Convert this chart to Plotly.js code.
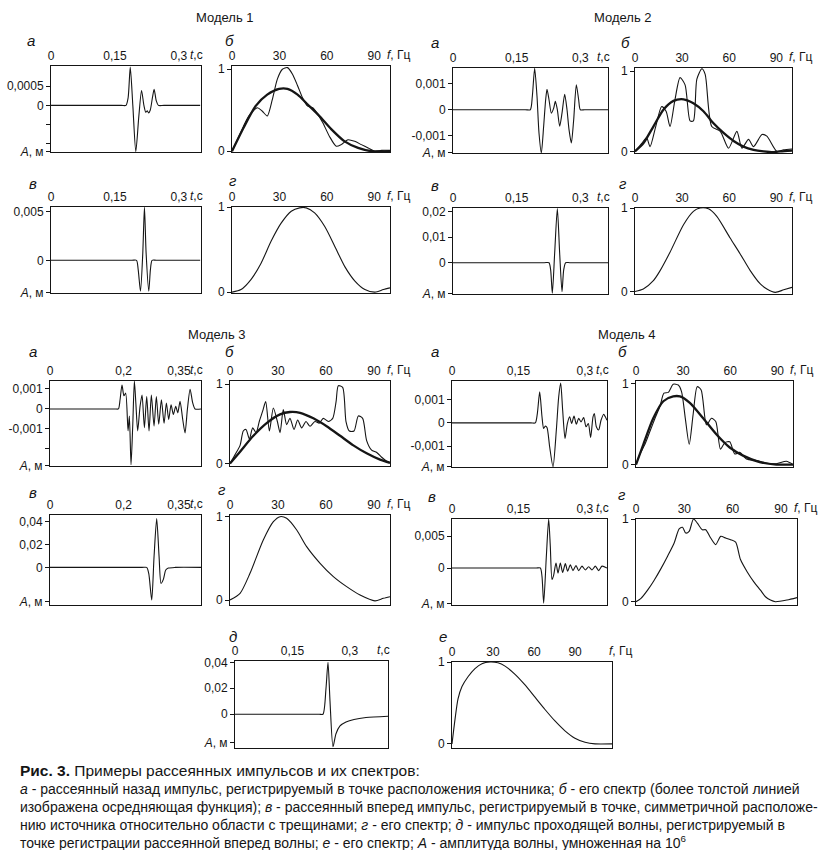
<!DOCTYPE html>
<html><head><meta charset="utf-8">
<script src="https://cdn.plot.ly/plotly-3.0.1.min.js"></script>
<style>body{margin:0;background:#fff}#c{width:820px;height:850px}</style>
</head><body><div id="c"></div>
<script>
// ---------- tick labels ----------
const T_TICKS_A = [0, 0.15, 0.3];  const T_LABELS_A = ['0', '0,15', '0,3'];
const T_TICKS_B = [0, 0.2, 0.35];  const T_LABELS_B = ['0', '0,2', '0,35'];
const F_TICKS = [0, 30, 60, 90];   const F_LABELS = ['0', '30', '60', '90'];
const S_TICKS = [0, 1];            const S_LABELS = ['0', '1'];
const AM = '<i>A</i>, м';

// ---------- Model 1 ----------
const M1A_T = [0, 0.165, 0.176, 0.181, 0.186, 0.192, 0.199, 0.206, 0.2125, 0.218, 0.2225, 0.226, 0.229, 0.233, 0.238, 0.242, 0.247, 0.252, 0.265, 0.35];
const M1A_A = [0, 0, 0, 0.0002, 0.001, 0.0, -0.00121, -0.0003, 0.00039, 0.0, -0.00018, -0.00014, -0.0002, -0.00012, 0.0002, 0.00042, 0.00012, 0, 0, 0];
const M1A_YT = [-0.00121, -0.001, -0.0005, 0, 0.0005]; const M1A_YL = [AM, '', '', '0', '0,0005'];
const M1B_F = [0, 5.3, 10.6, 16.0, 19.1, 22.3, 25.5, 28.7, 31.9, 35.1, 38.3, 41.5, 44.7, 47.9, 51.1, 54.3, 57.4, 61.7, 66.0, 69.1, 73.4, 77.7, 81.9, 86.2, 90.4, 94.7, 100];
const M1B_S = [0, 0.22, 0.43, 0.53, 0.49, 0.43, 0.63, 0.88, 1.0, 1.02, 0.94, 0.80, 0.65, 0.55, 0.53, 0.45, 0.35, 0.18, 0.06, 0.08, 0.14, 0.12, 0.08, 0.04, 0.0, 0.01, 0.01];
const M1B_FAVG = [0, 7.4, 14.9, 22.3, 29.8, 35.1, 41.5, 47.9, 55.3, 62.8, 71.3, 79.8, 88.3, 100];
const M1B_SAVG = [0, 0.29, 0.55, 0.69, 0.76, 0.76, 0.69, 0.57, 0.43, 0.27, 0.12, 0.04, 0.0, 0.0];
const M1C_T = [0, 0.19, 0.2007, 0.2046, 0.21, 0.2154, 0.2193, 0.2232, 0.2294, 0.2333, 0.2372, 0.247, 0.35];
const M1C_A = [0, 0, 0, -0.00095, -0.00316, 0.00075, 0.00544, 0.00075, -0.00316, -0.00095, 0, 0, 0];
const M1C_YT = [-0.0033, 0, 0.005]; const M1C_YL = [AM, '0', '0,005'];
const M1D_F = [0, 5.7, 12.1, 18.4, 24.8, 31.1, 37.5, 42.8, 47.0, 52.3, 58.7, 65.0, 71.4, 77.8, 84.1, 90.5, 95.8, 100];
const M1D_S = [0, 0.03, 0.15, 0.34, 0.60, 0.81, 0.95, 0.99, 0.99, 0.93, 0.77, 0.54, 0.30, 0.13, 0.03, 0, 0.03, 0.05];

// ---------- Model 2 ----------
const M2A_T = [0, 0.17, 0.1821, 0.1868, 0.1923, 0.1978, 0.2025, 0.208, 0.2135, 0.2182, 0.2214, 0.2261, 0.2316, 0.2371, 0.241, 0.2457, 0.2512, 0.2567, 0.263, 0.2685, 0.2732, 0.2787, 0.2842, 0.2904, 0.2959, 0.2998, 0.31, 0.365];
const M2A_A = [0, 0, 0, 0.00051, 0.00158, 0.00051, -0.00089, -0.00165, -0.00063, 0.00038, 0.00078, 0.00038, -0.00013, 0.00006, 0.00032, 0, -0.00063, -0.00013, 0.00059, 0, -0.00076, -0.00127, -0.00038, 0.00095, 0.00038, 0, 0, 0];
const M2A_YT = [-0.00163, -0.001, 0, 0.001]; const M2A_YL = [AM, '-0,001', '0', '0,001'];
const M2B_F = [0, 4.3, 7.4, 9.6, 13.2, 17.0, 19.8, 22.3, 25.5, 28.7, 31.9, 35.1, 37.2, 39.4, 42.6, 44.7, 48.9, 54.3, 59.6, 64.9, 68.1, 72.3, 75.5, 80.9, 84.0, 90.4, 94.7, 100];
const M2B_S = [0, 0.10, 0.17, 0.06, 0.31, 0.56, 0.50, 0.31, 0.65, 0.92, 0.83, 0.38, 0.38, 0.90, 1.03, 0.96, 0.31, 0.25, 0.04, 0.25, 0.04, 0.15, 0.06, 0.21, 0.19, 0, 0.02, 0.03];
const M2B_FAVG = [0, 5.3, 11.7, 18.1, 24.5, 30.9, 37.2, 43.6, 50.0, 56.4, 62.8, 69.1, 75.5, 81.9, 88.3, 92.6, 100];
const M2B_SAVG = [0, 0.10, 0.31, 0.52, 0.63, 0.65, 0.60, 0.50, 0.35, 0.23, 0.13, 0.06, 0.02, 0.0, -0.01, 0, 0.01];
const M2C_T = [0, 0.215, 0.2261, 0.23, 0.2339, 0.2394, 0.2457, 0.2512, 0.2567, 0.2606, 0.2653, 0.275, 0.365];
const M2C_A = [0, 0, 0, -0.0029, -0.012, 0.0037, 0.0213, 0.0037, -0.0114, -0.0029, 0, 0, 0];
const M2C_YT = [-0.0121, 0, 0.01, 0.02]; const M2C_YL = [AM, '0', '0,01', '0,02'];
const M2D_F = [0, 5.3, 11.7, 16.0, 22.3, 30.9, 37.2, 41.5, 46.8, 52.1, 60.6, 67.0, 73.4, 79.8, 84.0, 89.4, 94.7, 100];
const M2D_S = [0, 0.03, 0.13, 0.25, 0.47, 0.80, 0.96, 1.0, 0.99, 0.90, 0.64, 0.45, 0.25, 0.09, 0.03, -0.01, 0.02, 0.05];

// ---------- Model 3 ----------
const M3A_T = [0, 0.176, 0.1857, 0.1902, 0.1955, 0.2008, 0.2055, 0.2119, 0.2155, 0.22, 0.2246, 0.2291, 0.2336, 0.2381, 0.2445, 0.2499, 0.2563, 0.2626, 0.2689, 0.2752, 0.2825, 0.2888, 0.2952, 0.3025, 0.3097, 0.316, 0.3223, 0.3287, 0.335, 0.3414, 0.3469, 0.3531, 0.3604, 0.3667, 0.373, 0.3804, 0.3875, 0.3939, 0.41];
const M3A_A = [0, 0, 0, 0.00046, 0.0012, 0.00066, 0.00079, -0.0011, -0.00036, -0.0028, -0.00086, 0.0014, 0.00013, -0.0011, 0.00013, 0.0007, -0.00094, 0.00062, -0.0011, 0.0007, -0.00086, 0.00062, -0.00077, 0.00046, -0.00072, 0.0003, -0.00053, 0.00021, -0.00028, 0.00013, -0.0002, 0.00038, -0.00053, -0.0012, -0.00003, 0.00099, 0.0003, 0, 0];
const M3A_YT = [-0.00283, -0.002, -0.001, 0, 0.001]; const M3A_YL = [AM, '', '-0,001', '0', '0,001'];
const M3B_F = [0, 3.1, 6.3, 8.3, 10.0, 12.1, 14.2, 16.3, 18.3, 20.4, 22.3, 24.6, 27.1, 29.6, 31.3, 33.3, 35.4, 37.5, 40.0, 42.3, 44.8, 47.5, 50.0, 53.1, 55.8, 58.3, 61.5, 64.2, 66.3, 67.7, 70.4, 72.5, 74.6, 77.5, 80.2, 82.9, 85.4, 88.5, 91.7, 94.8, 97.9, 100];
const M3B_S = [0, 0.11, 0.23, 0.41, 0.43, 0.31, 0.45, 0.39, 0.53, 0.66, 0.78, 0.41, 0.70, 0.53, 0.39, 0.68, 0.49, 0.57, 0.43, 0.55, 0.45, 0.53, 0.47, 0.53, 0.51, 0.57, 0.53, 0.57, 0.78, 0.98, 0.96, 0.53, 0.41, 0.41, 0.60, 0.57, 0.29, 0.17, 0.14, 0.08, 0.03, 0.01];
const M3B_FAVG = [0, 6.3, 14.6, 22.9, 31.3, 37.5, 43.8, 52.1, 60.4, 68.8, 77.1, 85.4, 93.8, 100];
const M3B_SAVG = [0, 0.15, 0.35, 0.51, 0.62, 0.65, 0.64, 0.57, 0.47, 0.35, 0.23, 0.13, 0.05, 0.01];
const M3C_T = [0, 0.25, 0.2626, 0.2681, 0.2762, 0.2825, 0.2897, 0.2962, 0.3015, 0.3078, 0.3143, 0.3214, 0.34, 0.41];
const M3C_A = [0, 0, 0, -0.0053, -0.0286, 0.0093, 0.0429, 0.0093, -0.014, -0.0105, -0.0023, -0.0006, 0, 0];
const M3C_YT = [-0.03, 0, 0.02, 0.04]; const M3C_YL = [AM, '0', '0,02', '0,04'];
const M3D_F = [0, 6.3, 12.5, 20.8, 27.1, 31.3, 35.4, 41.7, 47.9, 56.3, 64.6, 72.9, 81.3, 90.6, 95.8, 100];
const M3D_S = [0, 0.08, 0.32, 0.72, 0.94, 1.0, 0.98, 0.84, 0.64, 0.44, 0.28, 0.16, 0.06, -0.01, 0.02, 0.04];

// ---------- Model 4 ----------
const M4A_T = [0, 0.178, 0.1882, 0.1927, 0.198, 0.2032, 0.207, 0.2108, 0.2145, 0.2205, 0.2281, 0.2356, 0.2409, 0.2454, 0.2499, 0.2552, 0.2605, 0.2657, 0.2702, 0.2755, 0.2808, 0.286, 0.2913, 0.2973, 0.3026, 0.3078, 0.3131, 0.3184, 0.3214, 0.3259, 0.3312, 0.3365, 0.3425, 0.3462, 0.35];
const M4A_A = [0, 0, 0, 0.0004, 0.00133, 0.00026, -0.00024, -0.00014, -0.0002, -0.00103, -0.00189, -0.00031, 0.00111, 0.00171, 0.00054, -0.00067, -0.00003, 0.00026, -0.00003, 0.00029, -0.00006, 0.00019, 0.00004, 0.00023, -0.00017, -0.00003, -0.00063, 0.00026, 0.0004, -0.00017, -0.00031, 0.00011, 0.00037, 0.00026, 0.00011];
const M4A_YT = [-0.00188, -0.001, 0, 0.001]; const M4A_YL = [AM, '-0,001', '0', '0,001'];
const M4B_F = [0, 2.5, 5.7, 8.9, 12.1, 15.3, 17.8, 20.6, 23.7, 26.9, 29.0, 31.4, 33.9, 36.4, 39.0, 41.5, 44.9, 48.1, 50.8, 53.8, 56.6, 59.7, 62.9, 66.1, 70.3, 76.7, 83.1, 89.4, 95.8, 100];
const M4B_S = [0, 0.13, 0.25, 0.41, 0.57, 0.72, 0.88, 0.89, 0.99, 0.98, 0.90, 0.57, 0.25, 0.62, 0.96, 0.92, 0.49, 0.57, 0.53, 0.19, 0.27, 0.28, 0.13, 0.15, 0.07, 0.05, 0.02, 0.01, 0.04, 0];
const M4B_FAVG = [0, 4.7, 11.0, 17.4, 23.7, 28.0, 34.3, 42.8, 51.3, 59.7, 68.2, 78.8, 89.4, 100];
const M4B_SAVG = [0, 0.25, 0.57, 0.78, 0.84, 0.84, 0.76, 0.57, 0.37, 0.21, 0.11, 0.03, 0, 0];
const M4C_T = [0, 0.19, 0.1995, 0.2032, 0.207, 0.213, 0.2183, 0.222, 0.2258, 0.2296, 0.2348, 0.2394, 0.2446, 0.2499, 0.2559, 0.2612, 0.2672, 0.2732, 0.28, 0.286, 0.2935, 0.3011, 0.3086, 0.3161, 0.3237, 0.3312, 0.3387, 0.35];
const M4C_A = [0, 0, 0, -0.0013, -0.0055, 0.0018, 0.0077, 0.0034, -0.0018, -0.0011, 0.0008, -0.0008, 0.0008, -0.0007, 0.0007, -0.0005, 0.0005, -0.0004, 0.0004, -0.0004, 0.0003, -0.0003, 0.0002, -0.0003, 0.0003, -0.0004, 0.0003, 0];
const M4C_YT = [-0.0056, 0, 0.005]; const M4C_YL = [AM, '0', '0,005'];
const M4D_F = [0, 3.1, 7.2, 11.3, 15.5, 19.6, 23.7, 26.8, 28.9, 30.9, 33.0, 35.7, 38.1, 41.2, 43.3, 46.4, 49.5, 52.6, 55.7, 58.8, 61.9, 64.9, 69.1, 73.2, 77.3, 80.4, 83.5, 86.6, 93.8, 100];
const M4D_S = [0, 0.04, 0.14, 0.26, 0.40, 0.55, 0.71, 0.88, 0.90, 0.83, 0.85, 1.0, 0.95, 0.87, 0.87, 0.77, 0.69, 0.79, 0.77, 0.75, 0.72, 0.51, 0.36, 0.24, 0.14, 0.06, 0.02, 0, 0.02, 0.05];

// ---------- д, е ----------
const D_T = [0, 0.22, 0.23, 0.2379, 0.2431, 0.2484, 0.2562, 0.264, 0.2745, 0.2902, 0.3111, 0.3425, 0.4];
const D_A = [0, 0, 0, 0.02, 0.04, 0.01, -0.025, -0.015, -0.009, -0.006, -0.004, -0.0025, -0.0015];
const D_YT = [-0.022, 0, 0.02, 0.04]; const D_YL = [AM, '0', '0,02', '0,04'];
const E_F = [0, 2.2, 4.4, 7.3, 11.7, 16.8, 21.9, 27.8, 33.6, 38.8, 46.1, 53.4, 60.7, 68.0, 75.3, 82.6, 89.9, 97.3, 104.6, 117];
const E_S = [0, 0.3, 0.55, 0.7, 0.82, 0.92, 0.98, 1.0, 0.99, 0.95, 0.85, 0.72, 0.57, 0.42, 0.28, 0.16, 0.07, 0.02, 0.0, 0.0];

// ---------- texts ----------
const MODEL_TITLES = ['Модель 1', 'Модель 2', 'Модель 3', 'Модель 4'];
const CAPTION_LINES = [
  '<b>Рис. 3.</b> Примеры рассеянных импульсов и их спектров:',
  '<i>а</i> - рассеянный назад импульс, регистрируемый в точке расположения источника; <i>б</i> - его спектр (более толстой линией',
  'изображена осредняющая функция); <i>в</i> - рассеянный вперед импульс, регистрируемый в точке, симметричной расположе-',
  'нию источника относительно области с трещинами; <i>г</i> - его спектр; <i>д</i> - импульс проходящей волны, регистрируемый в',
  'точке регистрации рассеянной вперед волны; <i>е</i> - его спектр; <i>А</i> - амплитуда волны, умноженная на 10<sup>6</sup>'
];

// ---------- panel definitions (layout) ----------
const W = 820, H = 850;
const TH = 1.1, TK = 2.3;
const panels = [
  {box:[51,201,66,152],  s:[[M1A_T,M1A_A,TH]], xr:[0,0.352], yr:[-0.00122,0.00103], xt:T_TICKS_A, xl:T_LABELS_A, yt:M1A_YT, yl:M1A_YL, let:'а', lp:[31,41], u:'t'},
  {box:[232,390,66,152], s:[[M1B_F,M1B_S,TH],[M1B_FAVG,M1B_SAVG,TK]], xr:[0,100], yr:[-0.01,1.04], xt:F_TICKS, xl:F_LABELS, yt:S_TICKS, yl:S_LABELS, let:'б', lp:[229,41], u:'f'},
  {box:[51,201,207,293], s:[[M1C_T,M1C_A,TH]], xr:[0,0.352], yr:[-0.00335,0.00546], xt:T_TICKS_A, xl:T_LABELS_A, yt:M1C_YT, yl:M1C_YL, let:'в', lp:[33,183], u:'t'},
  {box:[232,390,207,293],s:[[M1D_F,M1D_S,TH]], xr:[0,100], yr:[-0.01,1.0], xt:F_TICKS, xl:F_LABELS, yt:S_TICKS, yl:S_LABELS, let:'г', lp:[233,181], u:'f'},

  {box:[453,608,68,153], s:[[M2A_T,M2A_A,TH]], xr:[0,0.365], yr:[-0.00165,0.00159], xt:T_TICKS_A, xl:T_LABELS_A, yt:M2A_YT, yl:M2A_YL, let:'а', lp:[435,42], u:'t'},
  {box:[635,792,68,153], s:[[M2B_F,M2B_S,TH],[M2B_FAVG,M2B_SAVG,TK]], xr:[0,100], yr:[-0.02,1.04], xt:F_TICKS, xl:F_LABELS, yt:S_TICKS, yl:S_LABELS, let:'б', lp:[625,42], u:'f'},
  {box:[453,608,208,294],s:[[M2C_T,M2C_A,TH]], xr:[0,0.365], yr:[-0.0123,0.0215], xt:T_TICKS_A, xl:T_LABELS_A, yt:M2C_YT, yl:M2C_YL, let:'в', lp:[435,185], u:'t'},
  {box:[635,792,208,294],s:[[M2D_F,M2D_S,TH]], xr:[0,100], yr:[-0.03,1.0], xt:F_TICKS, xl:F_LABELS, yt:S_TICKS, yl:S_LABELS, let:'г', lp:[623,183], u:'f'},

  {box:[50,201,381,466],  s:[[M3A_T,M3A_A,TH]], xr:[0,0.41], yr:[-0.00286,0.0014], xt:T_TICKS_B, xl:T_LABELS_B, yt:M3A_YT, yl:M3A_YL, let:'а', lp:[33,352], u:'t'},
  {box:[230,390,381,466], s:[[M3B_F,M3B_S,TH],[M3B_FAVG,M3B_SAVG,TK]], xr:[0,100], yr:[-0.03,1.04], xt:F_TICKS, xl:F_LABELS, yt:S_TICKS, yl:S_LABELS, let:'б', lp:[229,352], u:'f'},
  {box:[50,201,515,605],  s:[[M3C_T,M3C_A,TH]], xr:[0,0.41], yr:[-0.033,0.046], xt:T_TICKS_B, xl:T_LABELS_B, yt:M3C_YT, yl:M3C_YL, let:'в', lp:[33,493], u:'t'},
  {box:[230,390,515,605], s:[[M3D_F,M3D_S,TH]], xr:[0,100], yr:[-0.06,1.02], xt:F_TICKS, xl:F_LABELS, yt:S_TICKS, yl:S_LABELS, let:'г', lp:[222,490], u:'f'},

  {box:[452,607,381,467], s:[[M4A_T,M4A_A,TH]], xr:[0,0.35], yr:[-0.0019,0.0018], xt:T_TICKS_A, xl:T_LABELS_A, yt:M4A_YT, yl:M4A_YL, let:'а', lp:[435,352], u:'t'},
  {box:[636,793,381,467], s:[[M4B_F,M4B_S,TH],[M4B_FAVG,M4B_SAVG,TK]], xr:[0,100], yr:[-0.03,1.03], xt:F_TICKS, xl:F_LABELS, yt:S_TICKS, yl:S_LABELS, let:'б', lp:[622,352], u:'f'},
  {box:[452,607,519,605], s:[[M4C_T,M4C_A,TH]], xr:[0,0.35], yr:[-0.0058,0.0077], xt:T_TICKS_A, xl:T_LABELS_A, yt:M4C_YT, yl:M4C_YL, let:'в', lp:[432,496], u:'t'},
  {box:[636,797,519,605], s:[[M4D_F,M4D_S,TH]], xr:[0,100], yr:[-0.04,1.0], xt:F_TICKS, xl:F_LABELS, yt:S_TICKS, yl:S_LABELS, let:'г', lp:[622,494], u:'f'},

  {box:[235,388,661,748], s:[[D_T,D_A,TH]], xr:[0,0.4], yr:[-0.026,0.041], xt:T_TICKS_A, xl:T_LABELS_A, yt:D_YT, yl:D_YL, let:'д', lp:[233,636], u:'t'},
  {box:[452,612,662,748], s:[[E_F,E_S,TH]], xr:[0,117], yr:[-0.05,1.0], xt:F_TICKS, xl:F_LABELS, yt:S_TICKS, yl:S_LABELS, let:'е', lp:[443,636], u:'f'}
];
const TITLE_POS = [[225,18],[623,18],[217,334],[627,334]];

const FONT = 'Liberation Sans, Arial, sans-serif';
const INK = '#151515';
const traces = [];
const layout = {
  width: W, height: H, margin: {l:0, r:0, t:0, b:0},
  paper_bgcolor: '#fff', plot_bgcolor: '#fff', showlegend: false,
  font: {family: FONT, color: INK, size: 12},
  annotations: []
};
const px = p => p / W, py = p => 1 - p / H;
function ann(text, x, y, opts) {
  layout.annotations.push(Object.assign({text, x: px(x), y: py(y), xref:'paper', yref:'paper', showarrow:false,
    xanchor:'center', yanchor:'middle', font:{family:FONT, size:12, color:INK}}, opts || {}));
}

panels.forEach((p, i) => {
  const n = i + 1, sfx = n === 1 ? '' : String(n);
  const [x0, x1, y0, y1] = p.box;
  p.s.forEach(([xs, ys, w]) => traces.push({
    x: xs, y: ys, type: 'scatter', mode: 'lines', xaxis: 'x' + sfx, yaxis: 'y' + sfx,
    line: {color: INK, width: w, shape: 'spline', smoothing: 0.7}, hoverinfo: 'skip'
  }));
  layout['xaxis' + sfx] = {
    domain: [px(x0), px(x1)], anchor: 'y' + sfx, side: 'top', range: p.xr,
    showline: true, mirror: true, linecolor: INK, linewidth: 1, ticks: '',
    showgrid: false, zeroline: false, tickmode: 'array', tickvals: p.xt, ticktext: p.xl,
    tickfont: {size: 12, family: FONT, color: INK}, fixedrange: true
  };
  layout['yaxis' + sfx] = {
    domain: [py(y1), py(y0)], anchor: 'x' + sfx, range: p.yr,
    showline: true, mirror: true, linecolor: INK, linewidth: 1, ticks: 'outside', ticklen: 4, tickcolor: INK,
    showgrid: false, zeroline: false, tickmode: 'array', tickvals: p.yt, ticktext: p.yl,
    tickfont: {size: 12, family: FONT, color: INK}, fixedrange: true
  };
  ann('<i>' + p.let + '</i>', p.lp[0], p.lp[1], {font:{family:FONT, size:15, color:INK}});
  if (p.u === 't') ann('<i>t</i>,c', x1 + 4, y0 - 11, {xanchor:'right'});
  else ann('<i>f</i>, Гц', x1 - 5, y0 - 11, {xanchor:'left'});
});

MODEL_TITLES.forEach((t, i) => ann(t, TITLE_POS[i][0], TITLE_POS[i][1], {font:{family:FONT, size:13, color:INK}}));

const CAP_Y = [770, 789, 807, 825, 842];
CAPTION_LINES.forEach((t, i) => ann(t, 18, CAP_Y[i], {xanchor:'left',
  font:{family:FONT, size: i === 0 ? 15.5 : 14, color:INK}}));

Plotly.newPlot('c', traces, layout, {staticPlot: true, displayModeBar: false});
</script>
</body></html>
